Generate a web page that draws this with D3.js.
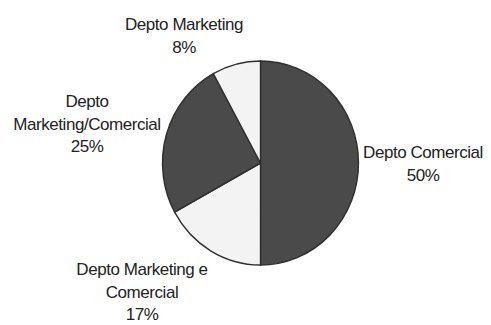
<!DOCTYPE html>
<html>
<head>
<meta charset="utf-8">
<script src="https://cdn.jsdelivr.net/npm/d3@7"></script>
<style>
  html, body { margin: 0; padding: 0; background: #ffffff; }
  svg { display: block; }
</style>
</head>
<body>
<svg id="chart" width="491" height="325"></svg>
<script>
const categories = ["Depto Comercial", "Depto Marketing e Comercial", "Depto Marketing/Comercial", "Depto Marketing"];
const values = [50, 17, 25, 8];
const labelLines = [
  ["Depto Comercial", "50%"],
  ["Depto Marketing e", "Comercial", "17%"],
  ["Depto", "Marketing/Comercial", "25%"],
  ["Depto Marketing", "8%"]
];
const fills = ["#4a4a4a", "#f3f3f3", "#4a4a4a", "#f3f3f3"];

const svg = d3.select("#chart");
const cx = 260.5, cy = 163, r = 100;

const data = categories.map((c, i) => ({ name: c, value: values[i], lines: labelLines[i], fill: fills[i] }));
const pie = d3.pie().sort(null).value(d => d.value);
const arcs = pie(data);
const arc = d3.arc().innerRadius(0).outerRadius(r);

const g = svg.append("g").attr("transform", `translate(${cx},${cy}) scale(0.98,1.02)`);
g.selectAll("path").data(arcs).enter().append("path")
  .attr("d", arc)
  .attr("fill", d => d.data.fill)
  .attr("stroke", "#2e2e2e")
  .attr("stroke-width", 1.4)
  .attr("stroke-linejoin", "round");

// Label anchor positions (center x, first baseline y) per slice
const labelPos = [
  { x: 423, y: 158 },
  { x: 142, y: 275 },
  { x: 87, y: 107 },
  { x: 184, y: 30 }
];
const lineH = 22.5;

const lg = svg.append("g")
  .attr("font-family", "'Liberation Sans', Arial, Helvetica, sans-serif")
  .attr("font-size", 17)
  .attr("fill", "#222222")
  .attr("text-anchor", "middle");

arcs.forEach((a, i) => {
  const t = lg.append("text").attr("x", labelPos[i].x).attr("y", labelPos[i].y).attr("letter-spacing", "-0.45");
  a.data.lines.forEach((ln, j) => {
    t.append("tspan").attr("x", labelPos[i].x).attr("dy", j === 0 ? 0 : lineH).text(ln);
  });
});
</script>
</body>
</html>
